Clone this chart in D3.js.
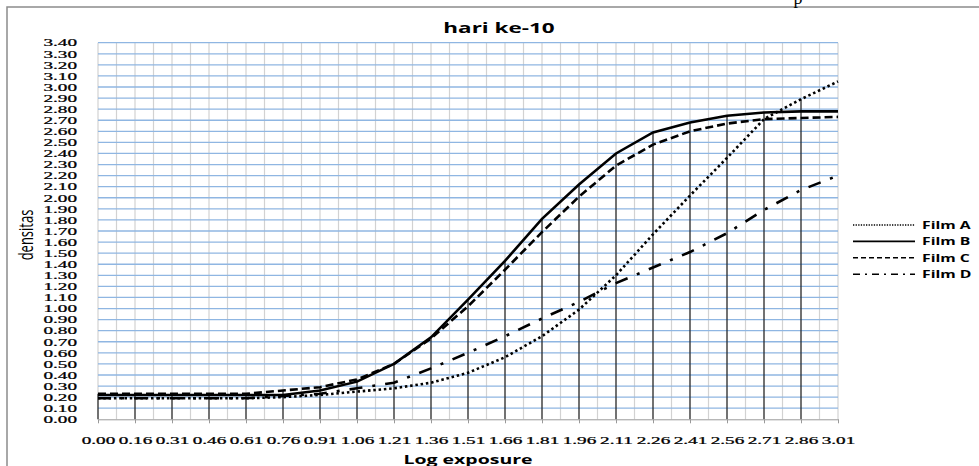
<!DOCTYPE html>
<head>
<script src="https://d3js.org/d3.v7.min.js"></script>
<style>
body { margin: 0; background: #fff; }
svg { display: block; }
</style>
</head>
<body>
<svg></svg>
<script>
// values
var categories = ["0.00","0.16","0.31","0.46","0.61","0.76","0.91","1.06","1.21","1.36","1.51",
                  "1.66","1.81","1.96","2.11","2.26","2.41","2.56","2.71","2.86","3.01"];
var filmA = [0.19,0.19,0.19,0.19,0.19,0.20,0.22,0.25,0.28,0.33,0.42,0.56,0.75,0.99,1.30,1.67,2.02,2.36,2.71,2.89,3.05];
var filmB = [0.22,0.22,0.22,0.22,0.22,0.22,0.26,0.34,0.50,0.74,1.08,1.43,1.81,2.12,2.40,2.59,2.68,2.74,2.77,2.78,2.78];
var filmC = [0.23,0.23,0.23,0.23,0.23,0.26,0.29,0.36,0.50,0.73,1.02,1.35,1.69,2.01,2.29,2.48,2.60,2.67,2.71,2.72,2.73];
var filmD = [0.19,0.19,0.19,0.19,0.19,0.21,0.23,0.28,0.33,0.46,0.60,0.75,0.91,1.06,1.23,1.37,1.51,1.68,1.89,2.07,2.20];
var seriesNames = ["Film A","Film B","Film C","Film D"];
var yTicks = d3.range(0, 35).map(function(i) { return i / 10; });

var width = 979, height = 466;
var SX = 1.5;      // the picture is stretched sideways, so text is too
var TICK_SX = 1.88; // tick labels are wider still
var plotLeft = 98, plotRight = 838, plotTop = 42.7, plotBottom = 419.3;

var svg = d3.select("svg").attr("width", width).attr("height", height);

// chart frame (runs past the page edge)
svg.append("rect").attr("x", 7).attr("y", 7).attr("width", 1000).attr("height", 500)
    .attr("fill", "#fff").attr("stroke", "#8c8c8c").attr("stroke-width", 1.5);
svg.append("text").attr("x", 798).attr("y", 4).attr("text-anchor", "middle")
    .style("font-family", "Liberation Serif").style("font-size", "18px").text("p");

var x = d3.scalePoint().domain(categories).range([plotLeft, plotRight]);
var y = d3.scaleLinear().domain([0, 3.4]).range([plotBottom, plotTop]);
var step = x.step();

// vertical gridlines, two per category
var g = svg.append("g");
g.selectAll(".vgrid")
    .data(d3.range(0, categories.length * 2 - 1))
    .enter().append("line")
    .attr("x1", function(i) { return plotLeft + i * step / 2; })
    .attr("x2", function(i) { return plotLeft + i * step / 2; })
    .attr("y1", plotTop).attr("y2", plotBottom)
    .style("stroke", "#d2d2d2").style("stroke-width", 1.2);

g.selectAll(".hgrid")
    .data(yTicks.slice(1))
    .enter().append("line")
    .attr("x1", plotLeft).attr("x2", plotRight)
    .attr("y1", function(d) { return y(d); }).attr("y2", function(d) { return y(d); })
    .style("stroke", "#8fb6e2").style("stroke-width", 1.3);

var series = [filmA, filmB, filmC, filmD];

// drop lines from the highest point down to the axis
g.selectAll(".drop")
    .data(categories.slice(0, categories.length - 1))
    .enter().append("line")
    .attr("x1", function(d) { return x(d); }).attr("x2", function(d) { return x(d); })
    .attr("y1", function(d, i) { return y(d3.max(series, function(s) { return s[i]; })); })
    .attr("y2", plotBottom)
    .style("stroke", "#000").style("stroke-width", 1);

var dashes = ["2.5,2.8", null, "8,4", "13,10,3,10"];
var legendDashes = ["1.3,1.3", null, "5,3", "7,5,2,5"];

var line = d3.line()
    .x(function(d, i) { return x(categories[i]); })
    .y(function(d) { return y(d); });

g.selectAll(".series")
    .data(series)
    .enter().append("path")
    .attr("d", line)
    .attr("fill", "none")
    .style("stroke", "#000")
    .style("stroke-width", 2.6)
    .style("stroke-dasharray", function(d, i) { return dashes[i]; });

// axes
var yAxis = svg.append("g").attr("transform", "translate(" + plotLeft + ",0)")
    .call(d3.axisLeft(y).tickValues(yTicks).tickSize(0).tickFormat(d3.format(".2f")));
yAxis.select(".domain").remove();
yAxis.selectAll("text")
    .attr("x", -21 / TICK_SX)
    .attr("transform", "scale(" + TICK_SX + ",1)")
    .style("font-family", "Liberation Serif").style("font-size", "10.2px")
    .style("fill", "#000").style("stroke", "#000").style("stroke-width", 0.25);

var xAxis = svg.append("g").attr("transform", "translate(0," + plotBottom + ")")
    .call(d3.axisBottom(x).tickSize(4).tickSizeOuter(0));
xAxis.select(".domain").style("stroke", "#999");
xAxis.selectAll("line").style("stroke", "#999");
xAxis.selectAll("text")
    .attr("y", 17.2)
    .attr("transform", "scale(" + TICK_SX + ",1)")
    .style("font-family", "Liberation Serif").style("font-size", "10.2px")
    .style("fill", "#000").style("stroke", "#000").style("stroke-width", 0.25);

// titles
svg.append("text")
    .attr("transform", "translate(499,33) scale(" + SX + ",1)")
    .attr("text-anchor", "middle")
    .style("font-family", "Open Sans").style("font-weight", "bold").style("font-size", "15px")
    .text("hari ke-10");

svg.append("text")
    .attr("transform", "translate(468,464) scale(" + SX + ",1)")
    .attr("text-anchor", "middle")
    .style("font-family", "Open Sans").style("font-weight", "bold").style("font-size", "13px")
    .text("Log exposure");

svg.append("text")
    .attr("transform", "translate(33,235) scale(" + SX + ",1) rotate(-90)")
    .attr("text-anchor", "middle")
    .style("font-family", "Open Sans").style("font-size", "13px")
    .text("densitas");

// legend
var legend = svg.append("g").selectAll("g")
    .data(seriesNames)
    .enter().append("g")
    .attr("transform", function(d, i) { return "translate(853," + (225 + i * 16.4) + ")"; });
legend.append("line")
    .attr("x1", 0).attr("x2", 62)
    .style("stroke", "#000").style("stroke-width", 1.6)
    .style("stroke-dasharray", function(d, i) { return legendDashes[i]; });
legend.append("text")
    .attr("transform", "translate(69,3.8) scale(" + SX + ",1)")
    .style("font-family", "Open Sans").style("font-weight", "bold").style("font-size", "10.5px")
    .text(function(d) { return d; });
</script>
</body>
